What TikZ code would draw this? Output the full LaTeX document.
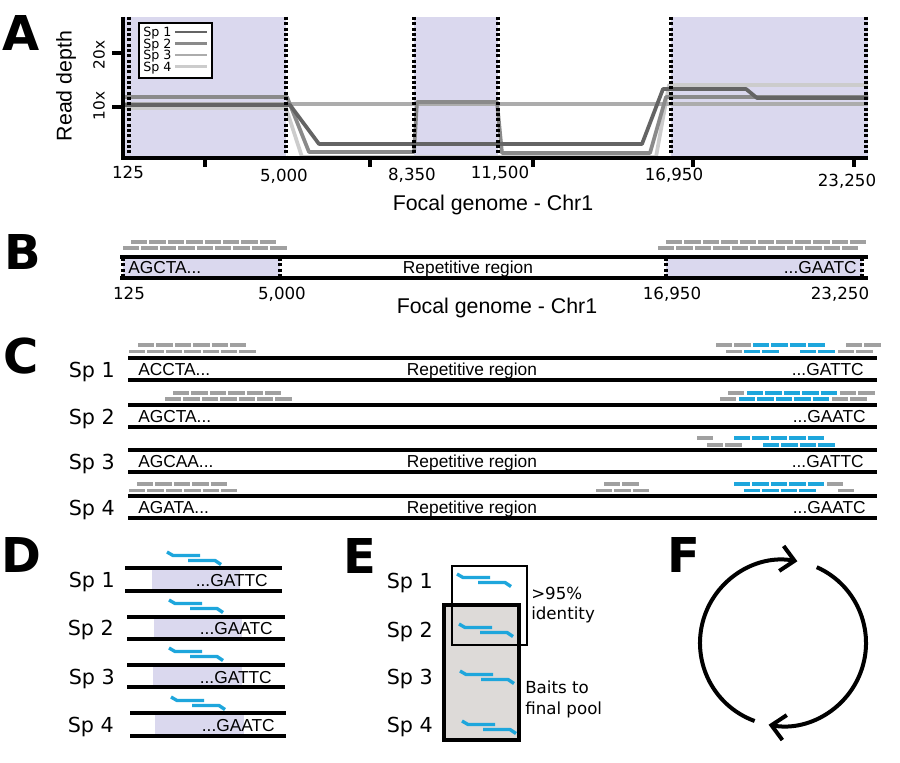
\documentclass[tikz,border=0pt]{standalone}
\usepackage{fontspec}
\setmainfont{DejaVu Sans}
\newfontfamily\arialf{Liberation Sans}
\usetikzlibrary{arrows.meta,calc}
\definecolor{lav}{RGB}{218,216,238}
\definecolor{gbox}{RGB}{221,218,216}
\definecolor{readgray}{RGB}{160,160,160}
\definecolor{baitblue}{RGB}{30,166,220}
\definecolor{cA}{RGB}{100,100,100}
\definecolor{cB}{RGB}{138,138,138}
\definecolor{cC}{RGB}{172,172,172}
\definecolor{cD}{RGB}{204,204,204}
\newcommand{\readrow}[4]{\foreach \k in {1,...,#3}{\draw[rd,#4] ({#2+(\k-1)*18.4},#1) -- ++(16.3,0);}}
\newcommand{\baitshape}[2]{\begin{scope}[shift={(#1,#2)}]\draw[baitline] (0,0) -- (6,3.5) -- (33,3.5);\draw[baitline] (21,8.5) -- (48,8.5) -- (54,12.5);\end{scope}}
\begin{document}
\begin{tikzpicture}[x=0.75pt,y=-0.75pt,
  panel/.style={font=\fontsize{36}{36}\selectfont\bfseries, inner sep=0, text height=26pt, text depth=0pt},
  vd/.style={font=\fontsize{12.5}{14}\selectfont, inner sep=0, text height=9pt, text depth=0pt},
  vdl/.style={font=\fontsize{12.5}{14}\selectfont, inner sep=0, text height=9pt, text depth=0pt, anchor=west},
  ar/.style={font=\arialf\fontsize{13}{15}\selectfont, inner sep=0, text height=9.3pt, text depth=0pt},
  arT/.style={font=\arialf\fontsize{16}{18}\selectfont, inner sep=0, text height=11.5pt, text depth=0pt},
  splab/.style={font=\fontsize{15.5}{17}\selectfont, inner sep=0, text height=11.3pt, text depth=0pt, anchor=east},
  legt/.style={font=\fontsize{9.5}{10}\selectfont, inner sep=0, text height=6.9pt, text depth=0pt, anchor=west},
  axisl/.style={line width=2.8pt},
  dotv/.style={line width=2.8pt, dash pattern=on 2.2pt off 1.8pt},
  pl/.style={line width=2.8pt, line join=round},
  trk/.style={line width=2.6pt},
  rd/.style={line width=2.3pt},
  baitline/.style={line width=2.5pt, color=baitblue, line join=round},
  cyc/.style={line width=3pt, -{Straight Barb[length=10pt,width=19pt]}}
]
\useasboundingbox (0,0) rectangle (900,763);
\fill[white] (0,0) rectangle (900,763);

% ================= Panel A =================
\node[panel] (lA) at (21.5,33) {A};
\fill[lav] (123,17) rectangle (286,158);
\fill[lav] (414,17) rectangle (498,158);
\fill[lav] (671,17) rectangle (868,158);
\draw[pl, cD] (123,108) -- (286,108) -- (302,157) -- (656,157) -- (669,85) -- (868,85);
\draw[pl, cC] (123,104) -- (868,104);
\draw[pl, cB] (123,97) -- (287,97) -- (309,152) -- (414,152) -- (417,102) -- (497,102) -- (502,153) -- (650,153) -- (666,97) -- (868,97);
\draw[pl, cA] (123,105) -- (290,105) -- (319,144) -- (642,144) -- (663,89) -- (746,89) -- (757,98) -- (868,98);
\foreach \xx in {129,286,414,498,671,866} \draw[dotv] (\xx,17) -- (\xx,158);
\draw[axisl] (123,17) -- (123,158) -- (868,158);
\draw[axisl] (112,53) -- (123,53);
\draw[axisl] (112,107) -- (123,107);
\foreach \xx in {205,370,533,693,854} \draw[axisl] (\xx,158) -- (\xx,167);
\node[font=\fontsize{11.5}{12}\selectfont, inner sep=0, rotate=90] (y20) at (99,55) {20x};
\node[font=\fontsize{11.5}{12}\selectfont, inner sep=0, rotate=90] (y10) at (99,106) {10x};
\node[arT, rotate=90] (ylab) at (64,86) {Read depth};
% legend
\draw[line width=0.9pt, fill=white] (139,23) rectangle (212,78);
\node[legt] (lg1) at (143,32) {Sp 1};
\node[legt] (lg2) at (143,43.5) {Sp 2};
\node[legt] (lg3) at (143,55) {Sp 3};
\node[legt] (lg4) at (143,66.5) {Sp 4};
\draw[line width=1.8pt, cA] (175,32) -- (207,32);
\draw[line width=1.8pt, cB] (175,43.5) -- (207,43.5);
\draw[line width=1.8pt, cC] (175,55) -- (207,55);
\draw[line width=1.8pt, cD] (175,66.5) -- (207,66.5);
% tick labels
\node[vd] (a125) at (128,173) {125};
\node[vd] (a5000) at (284,176) {5,000};
\node[vd] (a8350) at (412,175) {8,350};
\node[vd] (a11500) at (500,173) {11,500};
\node[vd] (a16950) at (674,175) {16,950};
\node[vd] (a23250) at (847,181) {23,250};
\node[arT] (xA) at (493,203) {Focal genome - Chr1};

% ================= Panel B =================
\node[panel] (lB) at (23,252) {B};
\fill[lav] (123,257) rectangle (280,278);
\fill[lav] (666,257) rectangle (862,278);
\draw[trk] (120,257) -- (868,257);
\draw[trk] (120,278) -- (868,278);
\foreach \xx in {123,280,666,862} \draw[dotv] (\xx,258) -- (\xx,277);
\readrow{242}{131}{8}{readgray}
\readrow{248}{123}{9}{readgray}
\readrow{242}{666}{11}{readgray}
\readrow{248}{658}{11}{readgray}
\node[ar, anchor=west] (bs1) at (128,267) {AGCTA...};
\node[ar] (brep) at (468,267) {Repetitive region};
\node[ar, anchor=east] (bs2) at (857,267) {...GAATC};
\node[vd] (b125) at (129,293) {125};
\node[vd] (b5000) at (282,293) {5,000};
\node[vd] (b16950) at (672,293) {16,950};
\node[vd] (b23250) at (840,293) {23,250};
\node[arT] (xB) at (497,305.5) {Focal genome - Chr1};

% ================= Panel C =================
\node[panel] (lC) at (21,356) {C};
\foreach \yt/\yb in {358/380,405/427,450/472,496/518}{
  \draw[trk] (128,\yt) -- (877,\yt);
  \draw[trk] (128,\yb) -- (877,\yb);
}
\node[splab] (c1) at (115,370) {Sp 1};
\node[splab] (c2) at (115,417) {Sp 2};
\node[splab] (c3) at (115,462) {Sp 3};
\node[splab] (c4) at (115,508) {Sp 4};
\node[ar, anchor=west] (cs1) at (138,369.5) {ACCTA...};
\node[ar, anchor=west] (cs2) at (138,416) {AGCTA...};
\node[ar, anchor=west] (cs3) at (138,461) {AGCAA...};
\node[ar, anchor=west] (cs4) at (138,507) {AGATA...};
\node[ar] (cr1) at (472,369.5) {Repetitive region};
\node[ar] (cr3) at (472,461) {Repetitive region};
\node[ar] (cr4) at (472,507) {Repetitive region};
\node[ar, anchor=east] (ce1) at (864,369.5) {...GATTC};
\node[ar, anchor=east] (ce2) at (866,416) {...GAATC};
\node[ar, anchor=east] (ce3) at (864,461) {...GATTC};
\node[ar, anchor=east] (ce4) at (866,507) {...GAATC};
% Sp1 reads
\readrow{345}{138}{6}{readgray}
\readrow{351.5}{129}{7}{readgray}
\readrow{345}{716}{2}{readgray}
\readrow{345}{753}{4}{baitblue}
\readrow{345}{846}{2}{readgray}
\readrow{351.5}{726}{1}{readgray}
\readrow{351.5}{744}{2}{baitblue}
\readrow{351.5}{800}{2}{baitblue}
\readrow{351.5}{838}{2}{readgray}
% Sp2 reads
\readrow{393}{173}{6}{readgray}
\readrow{399}{165}{7}{readgray}
\readrow{393}{728}{1}{readgray}
\readrow{393}{747}{5}{baitblue}
\readrow{393}{840}{2}{readgray}
\readrow{399}{720}{1}{readgray}
\readrow{399}{739}{5}{baitblue}
\readrow{399}{832}{2}{readgray}
% Sp3 reads
\readrow{438}{697}{1}{readgray}
\readrow{438}{734}{5}{baitblue}
\readrow{445}{707}{2}{readgray}
\readrow{445}{763}{4}{baitblue}
% Sp4 reads
\readrow{484}{137}{5}{readgray}
\readrow{490.5}{129}{6}{readgray}
\readrow{484}{604}{2}{readgray}
\readrow{490.5}{596}{3}{readgray}
\readrow{484}{734}{5}{baitblue}
\readrow{484}{827}{1}{readgray}
\readrow{490.5}{744}{4}{baitblue}
\readrow{490.5}{838}{1}{readgray}

% ================= Panel D =================
\node[panel] (lD) at (21,555) {D};
\fill[lav] (152,568) rectangle (240,591);
\fill[lav] (154,617) rectangle (242,639);
\fill[lav] (153,665) rectangle (242,687);
\fill[lav] (155,713) rectangle (244,736);
\draw[trk] (125,568) -- (282,568);
\draw[trk] (125,591) -- (282,591);
\draw[trk] (127,617) -- (285,617);
\draw[trk] (127,639) -- (285,639);
\draw[trk] (127,665) -- (285,665);
\draw[trk] (127,687) -- (285,687);
\draw[trk] (130,713) -- (286,713);
\draw[trk] (130,736) -- (286,736);
\node[splab] (d1) at (115,580) {Sp 1};
\node[splab] (d2) at (114,628) {Sp 2};
\node[splab] (d3) at (115,677) {Sp 3};
\node[splab] (d4) at (114,725) {Sp 4};
\node[ar, anchor=east] (de1) at (268,580) {...GATTC};
\node[ar, anchor=east] (de2) at (273,628) {...GAATC};
\node[ar, anchor=east] (de3) at (272,677) {...GATTC};
\node[ar, anchor=east] (de4) at (275,725) {...GAATC};
\baitshape{167}{552}
\baitshape{169}{600}
\baitshape{169}{648}
\baitshape{171}{697}

% ================= Panel E =================
\node[panel] (lE) at (360,556) {E};
\draw[line width=2.4pt, fill=gbox] (444,605) rectangle (519,740);
\draw[line width=2pt] (452,566) rectangle (527,645);
\node[splab] (e1) at (433,581) {Sp 1};
\node[splab] (e2) at (433,630) {Sp 2};
\node[splab] (e3) at (433,677) {Sp 3};
\node[splab] (e4) at (433,725) {Sp 4};
\baitshape{457}{574}
\baitshape{459}{624}
\baitshape{460}{671}
\baitshape{462}{721}
\node[vdl] (id1) at (531,593) {>95\%};
\node[vdl] (id2) at (531,613) {identity};
\node[vdl] (bt1) at (525,687) {Baits to};
\node[vdl] (bt2) at (525,708) {final pool};

% ================= Panel F =================
\node[panel] (lF) at (684,555) {F};
\coordinate (Fc) at (783,643);
\draw[cyc] ($(Fc)+(-250:83)$) arc[start angle=-250, end angle=-80, radius=83];
\draw[cyc] ($(Fc)+(-66:83)$) arc[start angle=-66, end angle=100, radius=83];
\end{tikzpicture}
\end{document}
